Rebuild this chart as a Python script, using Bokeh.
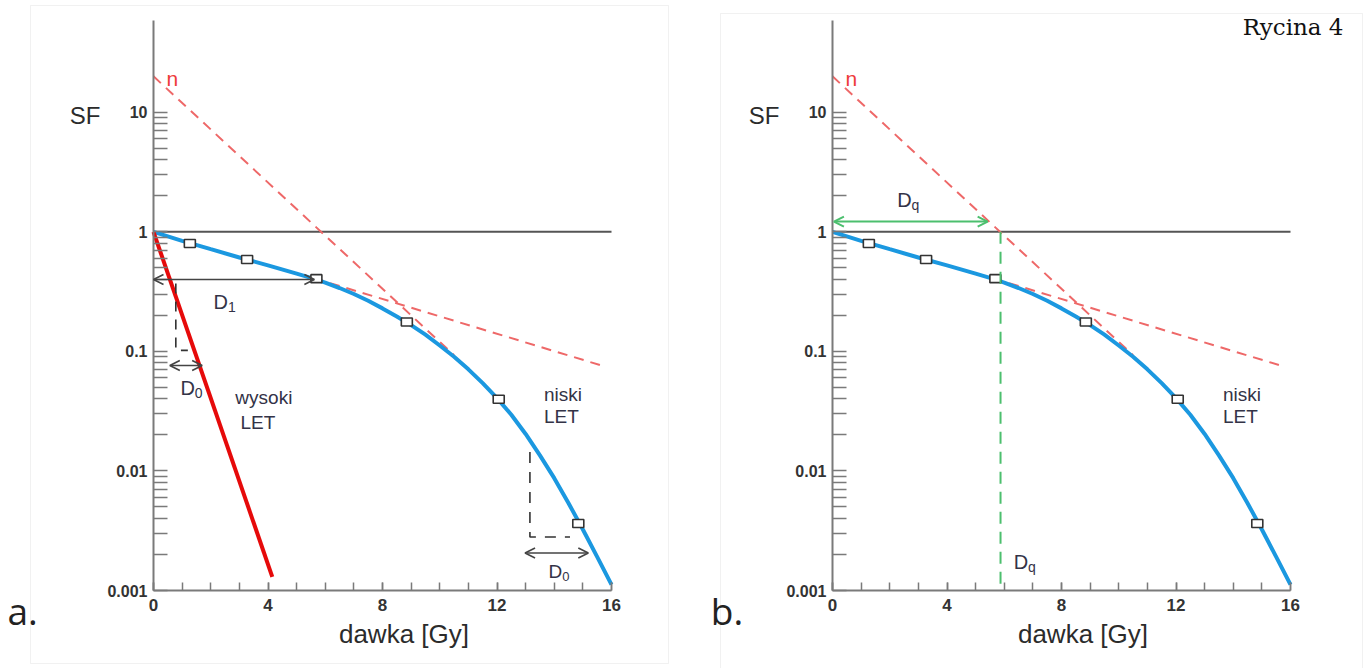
from bokeh.plotting import figure
from bokeh.layouts import row
from bokeh.models import (Range1d, FixedTicker, CustomJSTickFormatter, Label,
                          Arrow, OpenHead, BoxAnnotation)
from bokeh.embed import file_html
from bokeh.resources import INLINE

# ---------------- data ----------------
dose_curve = [0, 1, 2, 3, 4, 5, 5.5, 6, 6.5, 7, 7.5, 8, 8.5, 9, 9.5, 10, 10.5,
              11, 11.5, 12, 12.5, 13, 13.5, 14, 14.5, 15, 15.5, 16]
sf_low_let = [1.0, 0.841, 0.716, 0.610, 0.525, 0.447, 0.412, 0.376, 0.339,
              0.302, 0.265, 0.229, 0.196, 0.166, 0.138, 0.112, 0.0902, 0.0708,
              0.0543, 0.0407, 0.0295, 0.0204, 0.0135, 0.0087, 0.00537, 0.00324,
              0.00191, 0.00112]

dose_points = [1.27, 3.27, 5.69, 8.85, 12.06, 14.84]
sf_points = [0.80, 0.587, 0.406, 0.176, 0.0398, 0.00363]

dose_high_let = [0.0, 4.15]
sf_high_let = [1.0, 0.0013]

dose_extrap = [0.0, 10.5]
sf_extrap = [20.0, 0.093]

dose_initial = [5.6, 15.75]
sf_initial = [0.41, 0.075]

dose_unity = [0, 16]
sf_unity = [1, 1]

x_ticks = [0, 4, 8, 12, 16]
x_minor = list(range(17))
y_ticks = [0.001, 0.01, 0.1, 1, 10]
y_minor = [m * 10.0 ** e for e in (-3, -2, -1, 0) for m in range(2, 10)]

# construction helpers (panel a)
d1_arrow = dict(x0=0.0, x1=5.62, y=0.40)
d0_left_path_x = [0.78, 0.78, 1.2]
d0_left_path_y = [0.37, 0.102, 0.102]
d0_left_arrow = dict(x0=0.57, x1=1.70, y=0.0763)
d0_right_path_x = [13.15, 13.15, 14.55]
d0_right_path_y = [0.0144, 0.0028, 0.0028]
d0_right_arrow = dict(x0=12.98, x1=15.19, y=0.00206)
# panel b
dq_value = 5.87
dq_arrow = dict(x0=0.05, x1=5.42, y=1.22)
dq_line_y = [1.0, 0.001]

BLUE = "#1b98e0"
RED = "#e60a0a"
PINK = "#ee6868"
GREEN = "#4cbf6e"
DARK = "#555555"
AXIS = "#7a7a7a"
TXT = "#333347"
SANS = "Liberation Sans"

# layout: pixels per Gy and per decade, position of the axes on the canvas
PX_GY = 458 / 16
Y_TOP_LOG = 1.768
Y_BOT_LOG = -3.0
PX_DEC = 570 / (Y_TOP_LOG - Y_BOT_LOG)
AX_TOP, AX_BOTTOM, H = 20, 590, 668


def make_panel(width, origin_x, box):
    xr = Range1d(-origin_x / PX_GY, (width - origin_x) / PX_GY)
    yr = Range1d(10 ** (Y_BOT_LOG - (H - AX_BOTTOM) / PX_DEC),
                 10 ** (Y_TOP_LOG + AX_TOP / PX_DEC))
    p = figure(width=width, height=H, y_axis_type="log", x_range=xr, y_range=yr,
               output_backend="svg", toolbar_location=None, title=None,
               min_border=0, background_fill_color="white",
               border_fill_color="white")
    p.outline_line_color = None
    p.xgrid.visible = False
    p.ygrid.visible = False
    for ax in (p.xaxis[0], p.yaxis[0]):
        ax.axis_line_color = AXIS
        ax.axis_line_width = 2
        ax.major_tick_line_color = AXIS
        ax.minor_tick_line_color = AXIS
        ax.major_tick_line_width = 1.5
        ax.minor_tick_line_width = 1.5
        ax.major_tick_out = 0
        ax.minor_tick_out = 0
        ax.major_label_text_font = SANS
        ax.major_label_text_font_style = "bold"
        ax.major_label_text_color = "#333333"
    p.xaxis.fixed_location = 10 ** Y_BOT_LOG
    p.xaxis.bounds = (0, 16)
    p.yaxis.fixed_location = 0
    p.yaxis.bounds = (10 ** Y_BOT_LOG, 10 ** Y_TOP_LOG)
    p.xaxis.ticker = FixedTicker(ticks=x_ticks, minor_ticks=x_minor)
    p.xaxis.major_tick_in = 8
    p.xaxis.minor_tick_in = 8
    p.xaxis.major_label_text_font_size = "17px"
    p.xaxis.major_label_standoff = 8
    p.yaxis.ticker = FixedTicker(ticks=y_ticks, minor_ticks=y_minor)
    p.yaxis.formatter = CustomJSTickFormatter(code="return String(tick);")
    p.yaxis.major_tick_in = 14
    p.yaxis.minor_tick_in = 14
    p.yaxis.major_label_text_font_size = "16px"
    p.yaxis.major_label_standoff = 6

    bl, bt, br, bb = box
    p.add_layout(BoxAnnotation(left=bl, right=br, top=bt, bottom=bb,
                               left_units="canvas", right_units="canvas",
                               top_units="canvas", bottom_units="canvas",
                               fill_alpha=0, line_color="#d2d2d2", line_width=1,
                               level="underlay"))

    # unity line
    p.line(dose_unity, sf_unity, line_color=DARK, line_width=2)
    # extrapolation lines
    p.line(dose_extrap, sf_extrap, line_color=PINK, line_width=2, line_dash="10 7")
    p.line(dose_initial, sf_initial, line_color=PINK, line_width=2, line_dash="10 7")
    # survival curve (low LET)
    p.line(dose_curve, sf_low_let, line_color=BLUE, line_width=4)
    p.rect(dose_points, sf_points, width=11, height=8, width_units="screen",
           height_units="screen", fill_color="white", line_color="#333333",
           line_width=1.6)

    # common texts
    p.add_layout(Label(x=0.45, y=19.1, text="n", text_color="#ee3b3b",
                       text_font=SANS, text_font_size="21px",
                       text_baseline="middle"))
    p.add_layout(Label(x=-2.93, y=9.41, text="SF", text_color="#2b2b2b",
                       text_font=SANS, text_font_size="24px",
                       text_baseline="middle"))
    p.add_layout(Label(x=8.75, y=0.000429, text="dawka [Gy]", text_color="#2b2b2b",
                       text_font=SANS, text_font_size="26px", text_align="center",
                       text_baseline="middle"))
    p.add_layout(Label(x=13.64, y=0.0438, text="niski", text_color=TXT,
                       text_font=SANS, text_font_size="19px",
                       text_baseline="middle"))
    p.add_layout(Label(x=13.64, y=0.0288, text="LET", text_color=TXT,
                       text_font=SANS, text_font_size="19px",
                       text_baseline="middle"))
    return p


def sub_label(p, x, y, main, sub, size=20):
    p.add_layout(Label(x=x, y=y, text=main, text_color=TXT, text_font=SANS,
                       text_font_size=f"{size}px", text_baseline="middle"))
    p.add_layout(Label(x=x, y=y, x_offset=size * 0.72, y_offset=-5, text=sub,
                       text_color=TXT, text_font=SANS,
                       text_font_size=f"{int(size * 0.7)}px",
                       text_baseline="middle"))


def double_arrow(p, a, color, width=1.6):
    p.add_layout(Arrow(x_start=a["x0"], y_start=a["y"], x_end=a["x1"], y_end=a["y"],
                       line_color=color, line_width=width,
                       start=OpenHead(size=10, line_color=color, line_width=width),
                       end=OpenHead(size=10, line_color=color, line_width=width)))


# ---------------- panel a ----------------
pa = make_panel(680, 153, (30, 5, 668, 663))
pa.line(dose_high_let, sf_high_let, line_color=RED, line_width=4)
pa.line(d0_left_path_x, d0_left_path_y, line_color="#333333", line_width=1.6,
        line_dash="10 8")
pa.line(d0_right_path_x, d0_right_path_y, line_color="#333333", line_width=1.6,
        line_dash="11 9")
double_arrow(pa, d1_arrow, "#444444")
double_arrow(pa, d0_left_arrow, "#444444")
double_arrow(pa, d0_right_arrow, "#444444")
sub_label(pa, 2.1, 0.257, "D", "1")
sub_label(pa, 0.94, 0.0496, "D", "0")
sub_label(pa, 13.8, 0.00143, "D", "0", size=19)
pa.add_layout(Label(x=2.86, y=0.0413, text="wysoki", text_color=TXT,
                    text_font=SANS, text_font_size="19px", text_baseline="middle"))
pa.add_layout(Label(x=3.04, y=0.0256, text="LET", text_color=TXT,
                    text_font=SANS, text_font_size="19px", text_baseline="middle"))
pa.add_layout(Label(x=-5.1, y=0.000681, text="a.", text_color="#222222",
                    text_font="Open Sans", text_font_size="37px",
                    text_baseline="middle"))

# ---------------- panel b ----------------
pb = make_panel(685, 152, (40, 13, 682, 672))
pb.line([dq_value, dq_value], dq_line_y, line_color=GREEN, line_width=2,
        line_dash="12 8")
double_arrow(pb, dq_arrow, GREEN, width=2)
sub_label(pb, 2.26, 1.83, "D", "q")
sub_label(pb, 6.33, 0.00173, "D", "q")
pb.add_layout(Label(x=-4.25, y=0.000681, text="b.", text_color="#222222",
                    text_font="Open Sans", text_font_size="37px",
                    text_baseline="middle"))
pb.add_layout(Label(x=17.85, y=52.1, text="Rycina 4", text_color="#111111",
                    text_font="DejaVu Serif", text_font_size="23px",
                    text_align="right", text_baseline="middle"))

layout = row(pa, pb)
open("out.html", "w").write(file_html(layout, INLINE))
